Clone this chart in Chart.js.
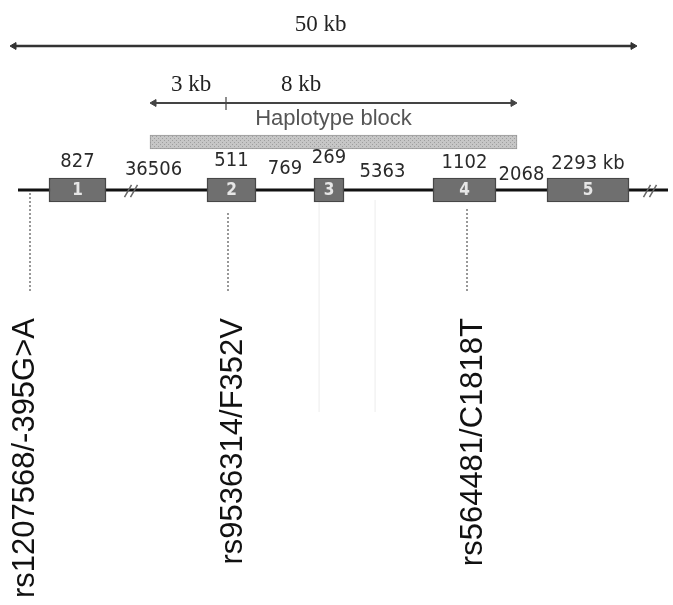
<!doctype html>
<html>

<head>
    <title>Gene structure and haplotype block</title>
    <script src="https://cdn.jsdelivr.net/npm/chart.js@4.4.0/dist/chart.umd.min.js"></script>
    <style>
    html, body { margin: 0; padding: 0; background: #fff; }
    #wrap { width: 673px; height: 605px; position: relative; }
    </style>
</head>

<body>
    <div id="wrap"><canvas id="canvas"></canvas></div>
    <script>
    // exons on the schematic (diagram units along the gene, not to scale)
    var exonNames = ['1', '2', '3', '4', '5'];
    var exonStart = [49, 207, 314, 433, 547];
    var exonEnd = [106, 256, 344, 496, 629];
    var exonSizes = ['827', '511', '269', '1102', '2293 kb'];
    var intronSizes = ['36506', '769', '5363', '2068'];

    // SNPs
    var snpNames = ['rs1207568/-395G>A', 'rs9536314/F352V', 'rs564481/C1818T'];
    var snpPos = [30, 228, 467];

    // spans
    var geneSpan = [18, 668];
    var totalSpan = [10, 637];      // 50 kb
    var blockSpan = [150, 517];     // haplotype block
    var blockSplit = 226;           // 3 kb | 8 kb
    var spanLabels = ['50 kb', '3 kb', '8 kb'];
    var breakPos = [131, 650];

    // layout rows (vertical axis runs top to bottom)
    var ROW = {
        totalLbl: 25, total: 46,
        blockLbl: 85, block: 103, hapTxt: 119, hatch: 142,
        gene: 190, snpBottom: 293, snpLblTop: 318
    };
    var sizeLblY = [162, 161, 158, 163, 164];
    var intronLblY = [170, 169, 172, 175];
    var intronNudge = [-3, 0, -6, 0];
    var snpTopY = [193, 213, 209];
    var snpLblBase = [34, 242, 482];
    var faintX = [319, 375];

    var seg = function(a, b, y) { return [{x: a, y: y}, {x: b, y: y}]; };
    var vseg = function(x, a, b) { return [{x: x, y: a}, {x: x, y: b}]; };

    var canvas = document.getElementById('canvas');
    var pc = document.createElement('canvas');
    pc.width = 4; pc.height = 4;
    var p = pc.getContext('2d');
    p.fillStyle = '#c6c6c6'; p.fillRect(0, 0, 4, 4);
    p.fillStyle = '#9e9e9e'; p.fillRect(0, 0, 1, 1); p.fillRect(2, 2, 1, 1);
    var hatch = canvas.getContext('2d').createPattern(pc, 'repeat');

    var arrowR = 4;
    var lineDs = function(data, color, width, extra) {
        var d = {type: 'line', data: data, borderColor: color, borderWidth: width,
            pointRadius: 0, fill: false, tension: 0, order: 5};
        for (var k in extra) d[k] = extra[k];
        return d;
    };
    var arrowDs = function(span, y, color, width) {
        return lineDs(seg(span[0] + arrowR, span[1] - arrowR, y), color, width, {
            pointRadius: arrowR, pointStyle: 'triangle', pointRotation: [-90, 90],
            pointBackgroundColor: color, pointBorderColor: color, pointBorderWidth: 1
        });
    };

    var datasets = [];
    faintX.forEach(function(x) {
        datasets.push(lineDs(vseg(x, 200, 412), '#f4f4f4', 1, {order: 20}));
    });
    datasets.push(arrowDs(totalSpan, ROW.total, '#333', 2.5));
    datasets.push(arrowDs(blockSpan, ROW.block, '#444', 2));
    datasets.push(lineDs(vseg(blockSplit, ROW.block - 6, ROW.block + 7), '#444', 1.2));
    datasets.push({
        type: 'bar', indexAxis: 'y', grouped: false, order: 3,
        data: [{x: blockSpan.slice(), y: ROW.hatch}],
        barThickness: 14, backgroundColor: hatch,
        borderColor: '#999', borderWidth: 1, borderSkipped: false
    });
    datasets.push(lineDs(seg(geneSpan[0], geneSpan[1], ROW.gene), '#111', 3, {order: 10}));
    datasets.push({
        type: 'scatter', order: 4,
        data: breakPos.reduce(function(a, x) {
            return a.concat([{x: x - 3, y: ROW.gene + 1}, {x: x + 3, y: ROW.gene + 1}]);
        }, []),
        pointStyle: 'line', pointRotation: -60, pointRadius: 7,
        pointBorderColor: '#666', pointBorderWidth: 1.5, showLine: false
    });
    var exonIndex = datasets.length;
    datasets.push({
        type: 'bar', indexAxis: 'y', grouped: false, order: 1,
        data: exonStart.map(function(s, i) { return {x: [s, exonEnd[i]], y: ROW.gene}; }),
        barThickness: 24, backgroundColor: '#6f6f6f',
        borderColor: '#474747', borderWidth: 1.5, borderSkipped: false
    });
    snpPos.forEach(function(x, i) {
        datasets.push(lineDs(vseg(x, snpTopY[i], ROW.snpBottom), '#777', 1.5, {borderDash: [2, 2]}));
    });

    var labelPlugin = {
        id: 'labels',
        afterDatasetsDraw: function(chart) {
            var ctx = chart.ctx, xs = chart.scales.x, ys = chart.scales.y;
            var X = function(v) { return xs.getPixelForValue(v); };
            var Y = function(v) { return ys.getPixelForValue(v); };
            ctx.save();
            ctx.textAlign = 'center';
            ctx.textBaseline = 'middle';

            ctx.fillStyle = '#222';
            ctx.font = '23px "Liberation Serif", "Times New Roman", serif';
            ctx.fillText(spanLabels[0], X((totalSpan[0] + totalSpan[1]) / 2 - 3), Y(ROW.totalLbl));
            ctx.fillText(spanLabels[1], X((blockSpan[0] + blockSplit) / 2 + 3), Y(ROW.blockLbl));
            ctx.fillText(spanLabels[2], X(blockSplit + 75), Y(ROW.blockLbl));

            ctx.fillStyle = '#555';
            ctx.font = '22px "Liberation Sans", Arial, sans-serif';
            ctx.fillText('Haplotype block', X((blockSpan[0] + blockSpan[1]) / 2), Y(ROW.hapTxt));

            ctx.fillStyle = '#2a2a2a';
            ctx.font = '20px "DejaVu Sans Condensed", "DejaVu Sans", sans-serif';
            exonSizes.forEach(function(t, i) {
                ctx.fillText(t, X((exonStart[i] + exonEnd[i]) / 2), Y(sizeLblY[i]));
            });
            intronSizes.forEach(function(t, i) {
                ctx.fillText(t, X((exonEnd[i] + exonStart[i + 1]) / 2 + intronNudge[i]), Y(intronLblY[i]));
            });

            ctx.fillStyle = '#e6e6e6';
            ctx.font = 'bold 17px "DejaVu Sans Condensed", "DejaVu Sans", sans-serif';
            chart.getDatasetMeta(exonIndex).data.forEach(function(bar, i) {
                ctx.fillText(exonNames[i], (bar.x + bar.base) / 2, bar.y + 1);
            });

            ctx.fillStyle = '#111';
            ctx.font = '31px "Liberation Sans", Arial, sans-serif';
            ctx.textAlign = 'right';
            ctx.textBaseline = 'alphabetic';
            snpNames.forEach(function(t, i) {
                ctx.save();
                ctx.translate(X(snpLblBase[i]), Y(ROW.snpLblTop));
                ctx.rotate(-Math.PI / 2);
                ctx.fillText(t, 0, 0);
                ctx.restore();
            });
            ctx.restore();
        }
    };

    window.onload = function() {
        window.geneChart = new Chart(canvas, {
            type: 'scatter',
            data: {datasets: datasets},
            options: {
                responsive: true,
                maintainAspectRatio: false,
                animation: false,
                layout: {padding: 0, autoPadding: false},
                plugins: {legend: {display: false}, tooltip: {enabled: false}},
                scales: {
                    x: {type: 'linear', min: 0, max: 673, offset: false, display: false},
                    y: {type: 'linear', min: 0, max: 605, reverse: true, offset: false, display: false}
                }
            },
            plugins: [labelPlugin]
        });
    };
    </script>
</body>

</html>
